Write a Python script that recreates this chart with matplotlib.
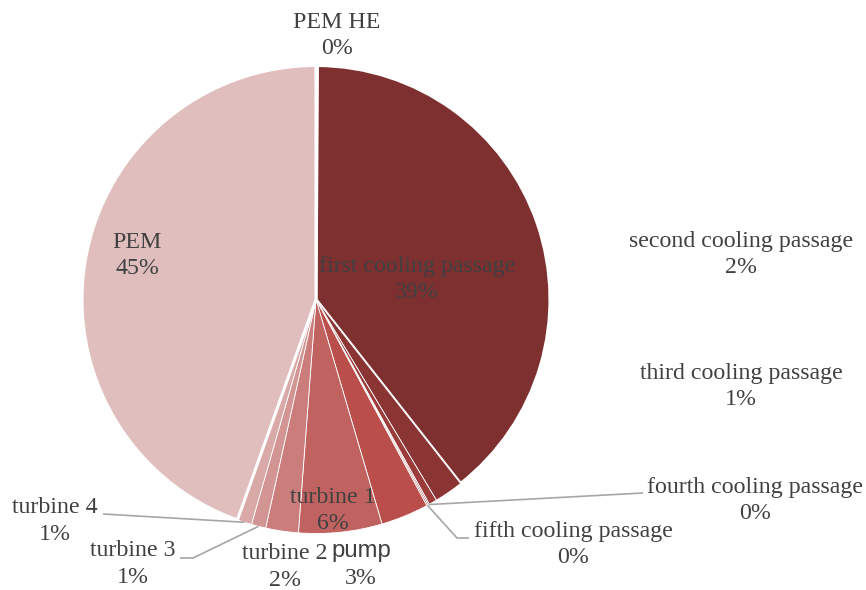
import numpy as np
import matplotlib
matplotlib.use("Agg")
import matplotlib.pyplot as plt

# data (share of total)
labels = ["PEM HE", "first cooling passage", "second cooling passage",
          "third cooling passage", "fourth cooling passage", "fifth cooling passage",
          "pump", "turbine 1", "turbine 2", "turbine 3", "turbine 4", "PEM"]
values = [0.1, 39.3, 2.0, 0.55, 0.1, 0.1, 3.3, 5.75, 2.25, 1.0, 1.0, 44.55]
colors = ["#7a2c2c", "#7e3030", "#8a3534", "#9b3b3a", "#a84140", "#b04644",
          "#ba4e4b", "#c0625f", "#cb7d7b", "#d39594", "#d9a9a8", "#e0bebd"]

W, H = 866, 590
TXT = "#404040"
LEAD = "#a6a6a6"
FS = 17.2

fig = plt.figure(figsize=(W / 100, H / 100), dpi=100)
ax = fig.add_axes([0, 0, 1, 1])

cx, cy, r = 316, H - 299.5, 234
wedges, _ = ax.pie(values, colors=colors, startangle=90, counterclock=False,
                   center=(cx, cy), radius=r,
                   wedgeprops=dict(edgecolor="white", linewidth=0.6))
# thicker white borders around the two big slices
wedges[1].set_linewidth(2.2)
wedges[-1].set_linewidth(2.2)

ax.set_xlim(0, W)
ax.set_ylim(0, H)
ax.set_aspect("equal")
ax.axis("off")

# label block centres (pixel coords, y from top)
label_pos = {
    "PEM HE": (337, 35.5),
    "first cooling passage": (417, 279.5),
    "second cooling passage": (741, 254.5),
    "third cooling passage": (741, 386.5),
    "fourth cooling passage": (755, 500.5),
    "fifth cooling passage": (573, 544.5),
    "pump": (361, 564.5),
    "turbine 1": (333, 510.5),
    "turbine 2": (285, 567),
    "turbine 3": (133, 564),
    "turbine 4": (55, 521),
    "PEM": (137, 255.5),
}

total = sum(values)
for lab, v in zip(labels, values):
    x, y = label_pos[lab]
    pct = "%.0f%%" % (v / total * 100)
    if lab == "pump":
        ax.text(x, H - y + 13.5, lab, ha="center", va="center", fontsize=FS,
                color=TXT, family="Liberation Sans")
        ax.text(x, H - y - 13.5, pct, ha="center", va="center", fontsize=FS,
                color=TXT, family="Liberation Serif")
    else:
        ax.text(x, H - y, lab + "\n" + pct, ha="center", va="center",
                fontsize=FS, color=TXT, family="Liberation Serif",
                linespacing=1.33)


def rim(i):
    w = wedges[i]
    a = np.deg2rad((w.theta1 + w.theta2) / 2)
    return cx + r * np.cos(a), cy + r * np.sin(a)


# leader lines: label side points, then the slice edge
leaders = {
    "turbine 4": [(103, 514)],
    "turbine 3": [(180, 558), (193, 558)],
    "fourth cooling passage": [(643, 493)],
    "fifth cooling passage": [(469, 538), (457, 538)],
}
for lab, pts in leaders.items():
    i = labels.index(lab)
    xs = [p[0] for p in pts] + [rim(i)[0]]
    ys = [H - p[1] for p in pts] + [rim(i)[1]]
    ax.plot(xs, ys, color=LEAD, lw=1.2, solid_capstyle="butt")

fig.savefig("out.png", dpi=100)
